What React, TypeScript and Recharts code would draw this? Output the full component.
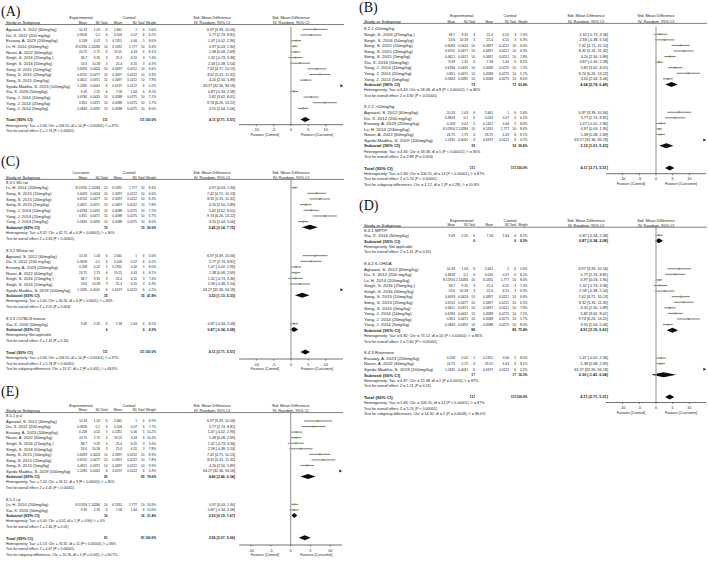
import React from 'react'
import { Bar, ComposedChart, ReferenceLine, XAxis, YAxis } from 'recharts'

// study level values (the same 15 studies feed every panel)
const studyNames = [
  'Agrawal, S. 2012 (60mg/kg)', 'Du, X. 2012 (200 mg/kg)', 'Essawy, A. 2023 (200mg/kg)', 'Lv, H. 2014 (200mg/kg)',
  'Naser, A. 2022 (60mg/kg)', 'Singh, S. 2016 (25mg/kg )', 'Singh, S. 2016 (50mg/kg)', 'Song, S. 2015 (10mg/kg)',
  'Song, S. 2015 (20mg/kg)', 'Song, S. 2015 (5mg/kg)', 'Syeda Madiha, S. 2019 (100mg/kg)', 'Xia, X. 2016 (50mg/kg)',
  'Yang, J. 2014 (10mg/kg)', 'Yang, J. 2014 (20mg/kg)', 'Yang, J. 2014 (5mg/kg)',
]
const expMean = [10.33, 0.9628, 0.208, 8.51916, 24.75, 38.7, 53.6, 0.6093, 0.6702, 0.4621, 1.2435, 9.49, 0.6784, 0.851, 0.5843]
const expSD = [1.03, 0.2, 0.02, 2.14284, 2.75, 9.35, 10.58, 0.0424, 0.0477, 0.0371, 0.0041, 2.35, 0.0431, 0.0471, 0.0392]
const expN = [6, 6, 5, 10, 6, 3, 3, 10, 10, 10, 6, 6, 10, 10, 10]
const ctlMean = [2.661, 0.026, 0.1351, 6.5331, 19.25, 25.4, 25.4, 0.3497, 0.3497, 0.3497, 0.6197, 7.58, 0.4588, 0.4588, 0.4588]
const ctlSD = [1, 0.07, 0.06, 1.777, 4.43, 6.55, 6.55, 0.0212, 0.0212, 0.0212, 0.0122, 1.64, 0.0275, 0.0275, 0.0275]
const ctlN = [6, 6, 5, 10, 6, 3, 3, 10, 10, 10, 6, 6, 10, 10, 10]
const smd = [6.97, 5.77, 1.47, 0.97, 1.38, 1.32, 2.58, 7.42, 8.32, 4.2, 63.27, 0.87, 5.82, 9.74, 3.55]
const ciLow = [3.39, 2.74, -0.02, 0.03, 0.08, -0.73, -0.38, 4.71, 5.31, 2.5, 32.36, -0.34, 3.62, 6.26, 2.04]
const ciHigh = [10.56, 8.81, 2.96, 1.9, 2.69, 3.36, 5.54, 10.13, 11.32, 5.89, 94.18, 2.08, 8.01, 13.22, 5.06]
const weightAll = [5.6, 6.2, 8.0, 8.4, 8.1, 7.4, 6.3, 6.6, 6.3, 7.8, 0.2, 8.2, 7.2, 5.7, 8.0]
const weightRoute = [6.9, 7.7, 10.2, 10.9, 10.4, 9.4, 7.8, 8.3, 7.8, 9.9, 0.3, 10.6, null, null, null]

const xTicks = [-10, -5, 0, 5, 10]

type Pooled = { n: number; weight: number; est: number; lo: number; hi: number; het: string; test: string }
type Grp = Pooled & { label: string; studies: number[] }

const overall: Pooled = {
  n: 111, weight: 100, est: 4.11, lo: 2.71, hi: 5.51,
  het: 'Heterogeneity: Tau² = 5.84; Chi² = 106.55, df = 14 (P < 0.00001); I² = 87%',
  test: 'Test for overall effect: Z = 5.74 (P < 0.00001)',
}
const overallRoute: Pooled = {
  n: 81, weight: 100, est: 3.56, lo: 2.07, hi: 5.06,
  het: 'Heterogeneity: Tau² = 5.13; Chi² = 76.92, df = 11 (P < 0.00001); I² = 86%',
  test: 'Test for overall effect: Z = 4.67 (P < 0.00001)',
}

const groupsDose: Grp[] = [
  { label: '8.2.1 ≤50mg/kg', studies: [5, 6, 7, 8, 9, 11, 12, 13, 14], n: 72, weight: 63.4, est: 4.64, lo: 2.78, hi: 6.49,
    het: 'Heterogeneity: Tau² = 6.63; Chi² = 58.08, df = 8 (P < 0.00001); I² = 86%', test: 'Test for overall effect: Z = 4.90 (P < 0.00001)' },
  { label: '8.2.2 >50mg/kg', studies: [0, 1, 2, 3, 4, 10], n: 39, weight: 36.6, est: 3.12, lo: 1.01, hi: 5.23,
    het: 'Heterogeneity: Tau² = 4.66; Chi² = 33.08, df = 5 (P < 0.00001); I² = 85%', test: 'Test for overall effect: Z = 2.89 (P = 0.004)' },
]
const groupsStrain: Grp[] = [
  { label: '8.3.1 SD rat', studies: [3, 7, 8, 9, 12, 13, 14], n: 70, weight: 50.0, est: 5.45, lo: 3.14, hi: 7.75,
    het: 'Heterogeneity: Tau² = 8.32; Chi² = 62.71, df = 6 (P < 0.00001); I² = 90%', test: 'Test for overall effect: Z = 4.63 (P < 0.00001)' },
  { label: '8.3.2 Wistar rat', studies: [0, 1, 2, 4, 5, 6, 10], n: 35, weight: 41.8, est: 3.23, lo: 1.13, hi: 5.33,
    het: 'Heterogeneity: Tau² = 5.40; Chi² = 30.26, df = 6 (P < 0.0001); I² = 80%', test: 'Test for overall effect: Z = 3.01 (P = 0.003)' },
  { label: '8.3.3 C57BL/6 mouse', studies: [11], n: 6, weight: 8.2, est: 0.87, lo: -0.34, hi: 2.08,
    het: 'Heterogeneity: Not applicable', test: 'Test for overall effect: Z = 1.41 (P = 0.16)' },
]
const groupsModel: Grp[] = [
  { label: '8.4.1 MPTP', studies: [11], n: 6, weight: 8.2, est: 0.87, lo: -0.34, hi: 2.08,
    het: 'Heterogeneity: Not applicable', test: 'Test for overall effect: Z = 1.41 (P = 0.16)' },
  { label: '8.4.2 6-OHDA', studies: [0, 1, 3, 5, 6, 7, 8, 9, 12, 13, 14], n: 88, weight: 75.4, est: 4.91, lo: 3.19, hi: 6.63,
    het: 'Heterogeneity: Tau² = 6.82; Chi² = 73.12, df = 10 (P < 0.00001); I² = 86%', test: 'Test for overall effect: Z = 5.60 (P < 0.00001)' },
  { label: '8.4.3 Rotenone', studies: [2, 4, 10], n: 17, weight: 16.3, est: 2.3, lo: -1.43, hi: 6.04,
    het: 'Heterogeneity: Tau² = 6.87; Chi² = 15.38, df = 2 (P = 0.0005); I² = 87%', test: 'Test for overall effect: Z = 1.21 (P = 0.23)' },
]
const groupsRoute: Grp[] = [
  { label: '8.5.1 p.o', studies: [0, 1, 2, 4, 5, 6, 7, 8, 9, 10], n: 65, weight: 78.6, est: 4.4, lo: 2.46, hi: 6.34,
    het: 'Heterogeneity: Tau² = 7.24; Chi² = 59.12, df = 9 (P < 0.00001); I² = 85%', test: 'Test for overall effect: Z = 4.45 (P < 0.00001)' },
  { label: '8.5.2 i.p', studies: [3, 11], n: 16, weight: 21.4, est: 0.93, lo: 0.19, hi: 1.67,
    het: 'Heterogeneity: Tau² = 0.00; Chi² = 0.02, df = 1 (P = 0.90); I² = 0%', test: 'Test for overall effect: Z = 2.46 (P = 0.01)' },
]
const subgroupDiff = [
  '',
  'Test for subgroup differences: Chi² = 1.12, df = 1 (P = 0.29), I² = 10.8%',
  'Test for subgroup differences: Chi² = 13.17, df = 2 (P = 0.001), I² = 84.8%',
  'Test for subgroup differences: Chi² = 14.32, df = 2 (P = 0.0008), I² = 86.0%',
  'Test for subgroup differences: Chi² = 10.76, df = 1 (P = 0.001), I² = 90.7%',
]

const FONT = '"Liberation Sans", Arial, sans-serif'
const SERIF = '"Liberation Serif", "Times New Roman", serif'

type Row = {
  key: string
  kind: 'study' | 'group' | 'sub' | 'het' | 'test' | 'blank' | 'total'
  label: string
  cells?: string[]
  est?: number
  ci?: [number, number] | null
  off?: boolean
}

function buildRows(groups: Grp[] | null, weights: (number | null)[], total: Pooled, domain: [number, number]): Row[] {
  const rows: Row[] = []
  const push = (r: Omit<Row, 'key'>) => rows.push({ ...r, key: 'r' + rows.length })
  const [d0, d1] = domain
  const study = (i: number) => {
    const off = ciLow[i] > d1
    const ci: [number, number] = off ? [d1 - (d1 - d0) * 0.03, d1] : [Math.max(ciLow[i], d0), Math.min(ciHigh[i], d1)]
    push({
      kind: 'study', label: studyNames[i], est: smd[i], ci, off,
      cells: [String(expMean[i]), String(expSD[i]), String(expN[i]), String(ctlMean[i]), String(ctlSD[i]), String(ctlN[i]),
        (weights[i] as number).toFixed(1) + '%', `${smd[i].toFixed(2)} [${ciLow[i].toFixed(2)}, ${ciHigh[i].toFixed(2)}]`],
    })
  }
  const pooled = (kind: 'sub' | 'total', label: string, g: Pooled) =>
    push({
      kind, label, est: g.est, ci: [g.lo, g.hi],
      cells: ['', '', String(g.n), '', '', String(g.n), g.weight.toFixed(1) + '%', `${g.est.toFixed(2)} [${g.lo.toFixed(2)}, ${g.hi.toFixed(2)}]`],
    })
  if (!groups) {
    studyNames.forEach((_, i) => study(i))
    push({ kind: 'blank', label: '' })
  } else {
    groups.forEach((g) => {
      push({ kind: 'group', label: g.label })
      g.studies.forEach(study)
      pooled('sub', 'Subtotal (95% CI)', g)
      push({ kind: 'het', label: g.het })
      push({ kind: 'test', label: g.test })
      push({ kind: 'blank', label: '' })
    })
  }
  pooled('total', 'Total (95% CI)', total)
  return rows
}

type Fonts = { fs: number; nfs: number; hfs: number; afs: number; cfs: number }
type Panel = {
  tag: string
  groups: Grp[] | null
  weights: (number | null)[]
  total: Pooled
  diff: string
  arm: string
  left: number
  top: number
  width: number
  firstRowY: number
  rowH: number
  axisY: number
  plotX0: number
  plotX1: number
  domain: [number, number]
  titleY: number
  head1Y: number
  head2Y: number
  lineY: number
  f: Fonts
  cols: number[] // label, expMean, expSD, expN, ctlMean, ctlSD, ctlN, weight, ci (relative to panel left)
  heads: number[] // centres: experimental, control, smd
}

const leftCols = [6, 87, 100, 107.6, 122, 137, 144.6, 156, 235]
const rightCols = [6, 97, 110, 117, 135, 151, 158, 169.5, 250]
const leftFonts: Fonts = { fs: 4.1, nfs: 3.2, hfs: 3.3, afs: 4.0, cfs: 3.6 }
const rightFonts: Fonts = { fs: 4.4, nfs: 3.3, hfs: 3.0, afs: 4.0, cfs: 3.8 }

const panels: Panel[] = [
  { tag: '(A)', groups: null, weights: weightAll, total: overall, diff: subgroupDiff[0], arm: 'Experimental',
    left: 0, top: 0, width: 350, firstRowY: 29.7, rowH: 5.64, axisY: 124.7, plotX0: 239, plotX1: 343, domain: [-15, 15],
    titleY: 15.5, head1Y: 17, head2Y: 22.6, lineY: 24.5, f: leftFonts, cols: leftCols, heads: [81, 129, 212] },
  { tag: '(B)', groups: groupsDose, weights: weightAll, total: overall, diff: subgroupDiff[1], arm: 'Experimental',
    left: 358, top: 0, width: 350, firstRowY: 29, rowH: 5.57, axisY: 173.7, plotX0: 606, plotX1: 706, domain: [-15, 15],
    titleY: 12, head1Y: 15.8, head2Y: 21.6, lineY: 23.4, f: rightFonts, cols: rightCols, heads: [103.7, 152, 228] },
  { tag: '(C)', groups: groupsStrain, weights: weightAll, total: overall, diff: subgroupDiff[2], arm: 'Curcumin',
    left: 0, top: 152, width: 350, firstRowY: 182.3, rowH: 5.67, axisY: 359, plotX0: 239, plotX1: 343, domain: [-15, 15],
    titleY: 166, head1Y: 172, head2Y: 177.5, lineY: 179.4, f: leftFonts, cols: leftCols, heads: [81, 129, 212] },
  { tag: '(D)', groups: groupsModel, weights: weightAll, total: overall, diff: subgroupDiff[3], arm: 'Experimental',
    left: 358, top: 196, width: 350, firstRowY: 230, rowH: 5.58, axisY: 402.5, plotX0: 606, plotX1: 706, domain: [-15, 15],
    titleY: 210, head1Y: 220, head2Y: 225.3, lineY: 227.2, f: rightFonts, cols: rightCols, heads: [103.7, 152, 228] },
  { tag: '(E)', groups: groupsRoute, weights: weightRoute, total: overallRoute, diff: subgroupDiff[4], arm: 'Experimental',
    left: 0, top: 383, width: 350, firstRowY: 415.7, rowH: 5.56, axisY: 545, plotX0: 239.3, plotX1: 342, domain: [-13, 13],
    titleY: 396, head1Y: 405.3, head2Y: 410.3, lineY: 412.6, f: leftFonts, cols: leftCols, heads: [81, 129, 212] },
]

const txt = (x: number, y: number, s: string, fs: number, anchor: 'start' | 'middle' | 'end' = 'start', bold = false, key?: string | number) => (
  <text key={key} x={x} y={y} fontSize={fs} textAnchor={anchor} dominantBaseline="central" fontFamily={FONT}
    fontWeight={bold ? 700 : 400} fill="#1c1c1c">{s}</text>
)

const ForestShape = (props: any) => {
  const { x, y, width, height, payload } = props
  if (!payload || !payload.ci || !(width >= 0) || !isFinite(x)) return <g />
  const cy = y + height / 2
  const [a, b] = payload.ci as [number, number]
  const px = (v: number) => x + (b === a ? 0 : (width * (v - a)) / (b - a))
  if (payload.kind === 'study') {
    if (payload.off) {
      const xr = x + width
      return <polygon points={`${xr - 2.6},${cy - 1.5} ${xr},${cy} ${xr - 2.6},${cy + 1.5}`} fill="#111" />
    }
    const ex = px(payload.est)
    return (
      <g>
        <line x1={x} x2={x + width} y1={cy} y2={cy} stroke="#5a5a5a" strokeWidth={0.8} />
        <rect x={ex - 0.9} y={cy - 0.9} width={1.8} height={1.8} fill="#5fae3a" />
      </g>
    )
  }
  const ex = px(payload.est)
  const h = height / 2
  return <polygon points={`${x},${cy} ${ex},${cy - h} ${x + width},${cy} ${ex},${cy + h}`} fill="#0d0d0d" />
}

const ForestPanel = ({ p }: { p: Panel }) => {
  const rows = buildRows(p.groups, p.weights, p.total, p.domain)
  const byKey = new Map(rows.map((r) => [r.key, r]))
  const n = rows.length
  const plotTop = p.firstRowY - p.rowH / 2 - p.top
  const rowsBottom = plotTop + n * p.rowH
  const axisY = p.axisY - p.top
  const xh = 16
  const height = axisY + xh
  const yW = p.plotX0 - p.left
  const plotRight = p.plotX1 - p.left
  const xOf = (v: number) => yW + ((v - p.domain[0]) / (p.domain[1] - p.domain[0])) * (plotRight - yW)
  const c = p.cols
  const f = p.f
  const hetFs = f.fs * 0.84

  const RowTick = (tp: any) => {
    const r = byKey.get(tp.payload?.value)
    if (!r) return <g />
    const y = tp.y
    const bold = r.kind === 'sub' || r.kind === 'total'
    if (r.kind === 'het' || r.kind === 'test') return txt(c[0], y, r.label, hetFs)
    return (
      <g>
        {txt(c[0], y, r.label, f.fs, 'start', bold)}
        {(r.cells || []).map((s, i) => (s ? txt(c[i + 1], y, s, i === 7 ? f.cfs : f.nfs, 'end', bold, i) : null))}
      </g>
    )
  }

  const footer = [p.total.het, p.total.test, p.diff].filter(Boolean)
  const h1 = p.head1Y - p.top
  const h2 = p.head2Y - p.top

  return (
    <div style={{ position: 'absolute', left: p.left, top: p.top, width: p.width, height }}>
      <ComposedChart layout="vertical" width={p.width} height={height} data={rows}
        margin={{ top: plotTop, right: p.width - plotRight, bottom: 0, left: 0 }}>
        <XAxis type="number" domain={p.domain} allowDataOverflow ticks={xTicks} interval={0} height={xh}
          axisLine={{ stroke: '#333', strokeWidth: 0.7 }} tickLine={{ stroke: '#333', strokeWidth: 0.6 }} tickSize={1.6}
          tick={(tp: any) => txt(tp.x, tp.y + 2.2, String(tp.payload.value), 3.8, 'middle')} />
        <YAxis type="category" dataKey="key" width={yW} interval={0} axisLine={false} tickLine={false}
          padding={{ top: 0, bottom: Math.max(0, axisY - rowsBottom) }} tick={RowTick} />
        <ReferenceLine x={0} stroke="#a9a9a9" strokeWidth={1.3} />
        <Bar dataKey="ci" barSize={5} shape={ForestShape} isAnimationActive={false} />
      </ComposedChart>
      <svg width={p.width} height={height} style={{ position: 'absolute', left: 0, top: 0, pointerEvents: 'none', overflow: 'visible' }}>
        <text x={1} y={p.titleY - p.top} fontSize={14} fontFamily={SERIF} fill="#111">{p.tag}</text>
        {txt(p.heads[0], h1, p.arm, f.afs, 'middle')}
        {txt(p.heads[1], h1, 'Control', f.afs, 'middle')}
        {txt(p.heads[2], h1, 'Std. Mean Difference', f.afs, 'middle')}
        {txt(xOf(0), h1, 'Std. Mean Difference', f.afs, 'middle')}
        {txt(c[0], h2, 'Study or Subgroup', f.fs)}
        {['Mean', 'SD', 'Total', 'Mean', 'SD', 'Total', 'Weight'].map((s, i) => txt(c[i + 1], h2, s, f.hfs, 'end', false, i))}
        {txt(p.heads[2], h2, 'IV, Random, 95% CI', f.afs, 'middle')}
        {txt(xOf(0), h2, 'IV, Random, 95% CI', f.afs, 'middle')}
        <line x1={c[0] - 1} x2={plotRight + 1} y1={p.lineY - p.top} y2={p.lineY - p.top} stroke="#2a2a2a" strokeWidth={0.6} />
        {footer.map((s, k) => txt(c[0], plotTop + p.rowH * (n + k + 0.5), s, hetFs, 'start', false, k))}
        {txt((xOf(p.domain[0]) + xOf(0)) / 2, axisY + 10.4, 'Favours [Control]', 3.7, 'middle')}
        {txt((xOf(0) + xOf(p.domain[1])) / 2, axisY + 10.4, 'Favours [Curcumin]', 3.7, 'middle')}
      </svg>
    </div>
  )
}

export default function App() {
  return (
    <div style={{ position: 'absolute', left: 0, top: 0, width: 708, height: 562, background: '#fff', overflow: 'hidden' }}>
      {panels.map((p) => (
        <ForestPanel key={p.tag} p={p} />
      ))}
    </div>
  )
}
